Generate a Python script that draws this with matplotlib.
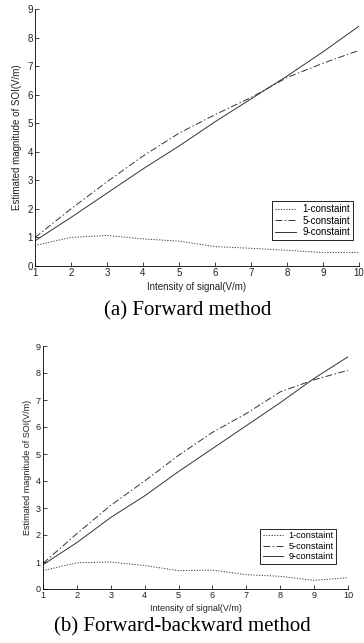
import matplotlib
matplotlib.use("Agg")
import matplotlib.pyplot as plt

x = [1, 2, 3, 4, 5, 6, 7, 8, 9, 10]

# (a) forward method
fwd_c1 = [0.72, 1.00, 1.07, 0.95, 0.87, 0.68, 0.62, 0.55, 0.47, 0.47]
fwd_c5 = [1.00, 2.00, 2.95, 3.85, 4.65, 5.30, 5.90, 6.60, 7.10, 7.55]
fwd_c9 = [0.88, 1.70, 2.55, 3.40, 4.20, 5.05, 5.85, 6.65, 7.50, 8.40]

# (b) forward-backward method
fb_c1 = [0.68, 0.97, 1.00, 0.87, 0.68, 0.70, 0.53, 0.47, 0.32, 0.42]
fb_c5 = [0.95, 2.05, 3.10, 4.00, 4.95, 5.80, 6.50, 7.30, 7.75, 8.10]
fb_c9 = [0.90, 1.72, 2.65, 3.45, 4.35, 5.20, 6.05, 6.90, 7.80, 8.60]

labels = ["1-constaint", "5-constaint", "9-constaint"]
captions = ["(a) Forward method", "(b) Forward-backward method"]

sans = ["Liberation Sans", "DejaVu Sans"]
serif = ["Liberation Serif", "DejaVu Serif"]

W, H = 364, 643
fig = plt.figure(figsize=(W / 100, H / 100), dpi=100)


def panel(rect, c1, c5, c9, fs_tick, fs_lab, fs_leg, leg_anchor, ylpad):
    l, t, r, b = rect
    ax = fig.add_axes([l / W, 1 - b / H, (r - l) / W, (b - t) / H])
    ax.plot(x, c1, color="#333333", lw=0.7, dashes=(1.2, 1.6), label=labels[0])
    ax.plot(x, c5, color="#333333", lw=0.7, dashes=(7, 2.5, 1.5, 2.5), label=labels[1])
    ax.plot(x, c9, "-", color="#333333", lw=0.7, label=labels[2])
    ax.set_xlim(1, 10)
    ax.set_ylim(0, 9)
    ax.set_xticks(range(1, 11))
    ax.set_yticks(range(0, 10))
    for s in ("top", "right"):
        ax.spines[s].set_visible(False)
    for s in ("left", "bottom"):
        ax.spines[s].set_linewidth(0.6)
    ax.tick_params(direction="in", length=3, width=0.6, labelsize=fs_tick, pad=1.5,
                   colors="#222222")
    for lb in ax.get_xticklabels() + ax.get_yticklabels():
        lb.set_family(sans)
    ax.set_xlabel("Intensity of signal(V/m)", fontsize=fs_lab, family=sans,
                  labelpad=2.5, color="#222222")
    ax.set_ylabel("Estimated magnitude of SOI(V/m)", fontsize=fs_lab, family=sans,
                  labelpad=ylpad, color="#222222")
    leg = ax.legend(loc="lower right", bbox_to_anchor=leg_anchor, fancybox=False,
                    edgecolor="black", framealpha=1, prop={"family": sans, "size": fs_leg},
                    handlelength=2.2, handletextpad=0.6, borderpad=0.3, labelspacing=0.15,
                    borderaxespad=0)
    leg.get_frame().set_linewidth(0.6)
    return ax


panel((35, 9, 359, 266), fwd_c1, fwd_c5, fwd_c9, 7.0, 7.0, 7.0, (0.981, 0.101), 4)
fig.text(188 / W, 1 - 311 / H, captions[0], ha="center", va="center",
         fontsize=15, family=serif)

panel((43, 346, 348, 589), fb_c1, fb_c5, fb_c9, 6.6, 6.5, 6.6, (0.961, 0.103), 3)
fig.text(182 / W, 1 - 627 / H, captions[1], ha="center", va="center",
         fontsize=15, family=serif)

fig.savefig("out.png", dpi=100)
